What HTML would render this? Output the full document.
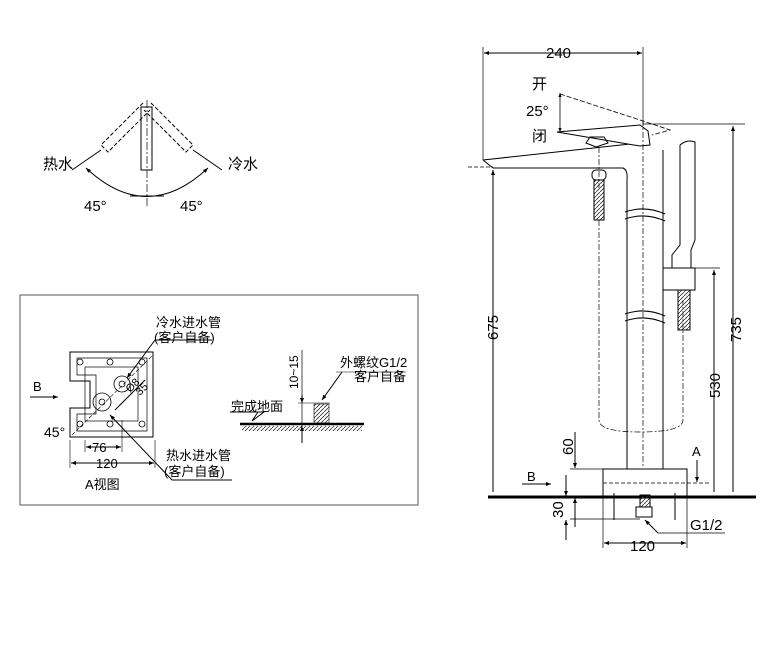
<!DOCTYPE html>
<html><head><meta charset="utf-8"><style>
body{margin:0;background:#fff}
svg{display:block;font-family:"Liberation Sans","Noto Sans CJK SC",sans-serif}
</style></head><body>
<svg width="780" height="650" viewBox="0 0 780 650" xmlns="http://www.w3.org/2000/svg">
<defs>
<marker id="a" viewBox="0 0 10 10" refX="10" refY="5" markerWidth="7" markerHeight="5" orient="auto-start-reverse"><path d="M0,1 L10,5 L0,9z" fill="#000"/></marker>
<pattern id="h" width="4" height="4" patternUnits="userSpaceOnUse"><path d="M0,4 L4,0" stroke="#333" stroke-width="0.8"/></pattern>
</defs>
<g fill="none" stroke="#000" stroke-width="1">
<!-- top-left handle -->
<rect x="141" y="107" width="11" height="63"/>
<line x1="147" y1="100" x2="147" y2="207" stroke-dasharray="8,2,2,2" stroke-width="0.7"/>
<g stroke-dasharray="4,2">
<path d="M143,103 L101,145 L108,152 L150,110"/>
<path d="M151,103 L193,145 L186,152 L144,110"/>
</g>
<line x1="72" y1="170" x2="101" y2="150"/>
<line x1="222" y1="170" x2="193" y2="150"/>
<path d="M86,168 Q147,225 208,168" marker-start="url(#a)" marker-end="url(#a)"/>
<line x1="130" y1="196" x2="164" y2="196"/>
<!-- box -->
<rect x="20" y="295" width="398" height="210" stroke="#555"/>
<!-- A view -->
<path d="M70,352 L153,352 L153,437 L70,437 L70,408 L90,408 L90,381 L70,381 Z"/>
<path d="M77,358 L147,358 L147,431 L77,431 L77,414 L96,414 L96,375 L77,375 Z" stroke-width="0.7"/>
<rect x="85" y="367" width="53" height="54" stroke-width="0.7"/>
<g stroke-width="0.8">
<circle cx="80" cy="362" r="3"/><circle cx="110" cy="362" r="3"/><circle cx="142" cy="362" r="3"/>
<circle cx="80" cy="424" r="3"/><circle cx="110" cy="424" r="3"/><circle cx="142" cy="424" r="3"/>
<circle cx="122" cy="384" r="8"/><circle cx="122" cy="384" r="3"/>
<circle cx="102" cy="402" r="9"/><circle cx="102" cy="402" r="3"/>
</g>
<line x1="72" y1="435" x2="152" y2="356" stroke-dasharray="4,2" stroke-width="0.6"/>
<line x1="115" y1="410" x2="145" y2="380"/>
<line x1="155" y1="340" x2="127" y2="378" marker-end="url(#a)"/>
<line x1="155" y1="340" x2="212" y2="340"/>
<line x1="172" y1="480" x2="110" y2="415" marker-end="url(#a)"/>
<line x1="172" y1="480" x2="232" y2="480"/>
<line x1="85" y1="440" x2="85" y2="452" stroke-width="0.6"/>
<line x1="122" y1="420" x2="122" y2="452" stroke-width="0.6"/>
<line x1="86" y1="447" x2="121" y2="447" marker-start="url(#a)" marker-end="url(#a)"/>
<line x1="70" y1="440" x2="70" y2="468" stroke-width="0.6"/>
<line x1="155" y1="440" x2="155" y2="468" stroke-width="0.6"/>
<line x1="71" y1="463" x2="154" y2="463" marker-start="url(#a)" marker-end="url(#a)"/>
<line x1="30" y1="397" x2="58" y2="397" marker-end="url(#a)"/>
<!-- floor detail -->
<line x1="240" y1="424" x2="364" y2="424" stroke-width="2.5"/>
<rect x="242" y="426" width="120" height="5" fill="url(#h)" stroke="none"/>
<line x1="302" y1="350" x2="302" y2="443" stroke-width="0.7"/>
<line x1="302" y1="395" x2="302" y2="403" marker-end="url(#a)"/>
<line x1="302" y1="443" x2="302" y2="426" marker-end="url(#a)"/>
<line x1="298" y1="403" x2="330" y2="403" stroke-width="0.6"/>
<rect x="314" y="404" width="15" height="19" fill="url(#h)" stroke-width="0.6"/>
<path d="M252,421 L258,412 L264,412 Z" />
<line x1="230" y1="412" x2="264" y2="412"/>
<line x1="342" y1="372" x2="322" y2="400" marker-end="url(#a)"/>
<line x1="336" y1="372" x2="406" y2="372" stroke-width="0.6"/>
<!-- right drawing -->
<line x1="483" y1="47" x2="483" y2="160" stroke-width="0.7"/>
<line x1="643" y1="47" x2="643" y2="125" stroke-width="0.7"/>
<line x1="484" y1="53" x2="642" y2="53" marker-start="url(#a)" marker-end="url(#a)"/>
<path d="M483,160 L640,143 M493,168 L623,168 Q628,170 627,180 L627,466 M663,150 L663,466"/>
<path d="M625,212 Q645,205 665,214 M625,219 Q645,212 665,221 M625,314 Q645,307 665,316 M625,321 Q645,314 665,323" stroke="#000"/>
<path d="M483,160 L493,168"/>
<line x1="468" y1="167" x2="493" y2="167" stroke-dasharray="4,2" stroke-width="0.7"/>
<path d="M557,132 L640,125 L648,131 L650,145 L640,146 Z" fill="#fff"/>
<path d="M560,94 L640,120 L670,130 L652,135" stroke-dasharray="5,2" stroke-width="0.8"/>
<path d="M560,93 L560,132" stroke-width="0.8" marker-start="url(#a)" marker-end="url(#a)"/>
<path d="M590,137 L604,137 L608,143 L596,147 L586,143 Z"/>
<line x1="599" y1="147" x2="599" y2="188" stroke-dasharray="6,2,2,2" stroke-width="0.7"/>
<line x1="643" y1="120" x2="643" y2="466" stroke-dasharray="6,2,2,2" stroke-width="0.7"/>
<rect x="592" y="170" width="14" height="10" rx="4"/>
<rect x="594" y="180" width="10" height="40" fill="url(#h)"/>
<path d="M599,220 L599,420 Q599,432 640,432 Q683,432 683,420 L683,300" stroke-dasharray="6,2,2,2" stroke-width="0.7"/>
<path d="M680,145 Q687,139 695,142 L695,240 L691,250 L691,268 M680,145 L680,245 L672,255 L672,268"/>
<rect x="663" y="268" width="32" height="22" fill="#fff"/>
<rect x="678" y="290" width="12" height="40" fill="url(#h)"/>
<line x1="643" y1="124" x2="745" y2="124" stroke-width="0.7"/>
<line x1="695" y1="268" x2="720" y2="268" stroke-width="0.7"/>
<line x1="733" y1="492" x2="733" y2="126" marker-end="url(#a)"/>
<line x1="714" y1="492" x2="714" y2="270" marker-end="url(#a)"/>
<line x1="493" y1="492" x2="493" y2="170" marker-end="url(#a)"/>
<rect x="603" y="469" width="84" height="28" fill="#fff"/>
<line x1="627" y1="466" x2="627" y2="469"/><line x1="663" y1="466" x2="663" y2="469"/>
<line x1="603" y1="483" x2="710" y2="483" stroke-dasharray="4,2" stroke-width="0.7"/>
<line x1="488" y1="497" x2="756" y2="497" stroke-width="3"/>
<line x1="603" y1="497" x2="603" y2="548" stroke-width="0.7"/>
<line x1="687" y1="497" x2="687" y2="548" stroke-width="0.7"/>
<line x1="604" y1="543" x2="686" y2="543" marker-start="url(#a)" marker-end="url(#a)"/>
<line x1="614" y1="493" x2="614" y2="520"/><line x1="675" y1="493" x2="675" y2="520"/>
<rect x="640" y="495" width="10" height="12" fill="url(#h)"/>
<rect x="636" y="507" width="16" height="10"/>
<line x1="645" y1="520" x2="658" y2="533" marker-start="url(#a)"/>
<line x1="658" y1="533" x2="725" y2="533" stroke-width="0.7"/>
<line x1="570" y1="469" x2="603" y2="469" stroke-width="0.7"/>
<line x1="570" y1="519" x2="640" y2="519" stroke-width="0.7"/>
<line x1="575" y1="432" x2="575" y2="468" marker-end="url(#a)"/>
<line x1="575" y1="527" x2="575" y2="498" marker-end="url(#a)"/>
<line x1="566" y1="475" x2="566" y2="496" marker-end="url(#a)"/>
<line x1="566" y1="540" x2="566" y2="520" marker-end="url(#a)"/>
<line x1="522" y1="484" x2="551" y2="484" marker-end="url(#a)"/>
<line x1="697" y1="460" x2="697" y2="482" marker-end="url(#a)"/>
</g>
<g font-size="15" fill="#000">
<text x="43" y="169">热水</text>
<text x="228" y="169">冷水</text>
<text x="84" y="211">45°</text>
<text x="180" y="211">45°</text>
<text x="156" y="327" font-size="13">冷水进水管</text>
<text x="154" y="342" font-size="13">(客户自备)</text>
<text x="166" y="460" font-size="13">热水进水管</text>
<text x="164" y="476" font-size="13">(客户自备)</text>
<text x="33" y="391" font-size="13">B</text>
<text x="44" y="437" font-size="14">45°</text>
<text x="92" y="452" font-size="13">76</text>
<text x="96" y="468" font-size="13">120</text>
<text x="85" y="489" font-size="13">A视图</text>
<text x="231" y="411" font-size="13">完成地面</text>
<text x="340" y="367" font-size="13">外螺纹G1/2</text>
<text x="354" y="381" font-size="13">客户自备</text>
<text font-size="12" transform="translate(298,389) rotate(-90)">10~15</text>
<text font-size="11" transform="translate(130,393) rotate(-45)">Ø8</text>
<text font-size="11" transform="translate(140,396) rotate(-45)">35</text>
<text x="546" y="58">240</text>
<text x="532" y="89">开</text>
<text x="526" y="116">25°</text>
<text x="532" y="141">闭</text>
<text transform="translate(498,340) rotate(-90)">675</text>
<text transform="translate(741,342) rotate(-90)">735</text>
<text transform="translate(720,398) rotate(-90)">530</text>
<text transform="translate(573,455) rotate(-90)">60</text>
<text transform="translate(563,518) rotate(-90)">30</text>
<text x="527" y="481" font-size="13">B</text>
<text x="692" y="456" font-size="13">A</text>
<text x="690" y="530" font-size="15">G1/2</text>
<text x="630" y="551" font-size="15">120</text>
</g>
</svg>
</body></html>
